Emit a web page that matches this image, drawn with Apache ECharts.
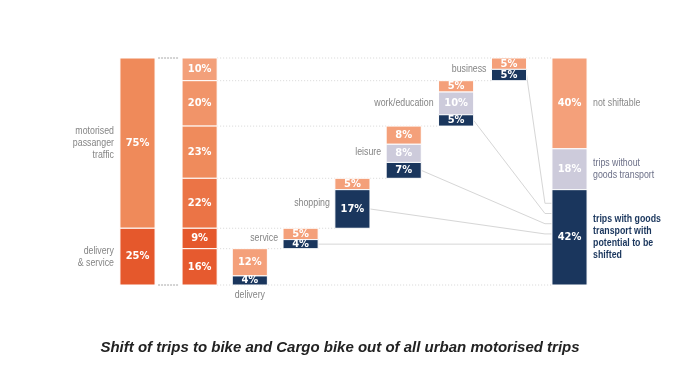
<!DOCTYPE html>
<html><head><meta charset="utf-8">
<script src="https://cdn.jsdelivr.net/npm/echarts@6/dist/echarts.min.js"></script>
<style>html,body{margin:0;padding:0;background:#fff}#c{width:680px;height:370px}</style>
</head><body><div id="c"></div>
<script>
// ---------------- DATA ----------------
const overallLabels = ['motorised\npassanger\ntraffic', 'delivery\n& service'];
const overallValues = [75, 25];
const purposes = ['delivery', 'service', 'shopping', 'leisure', 'work/education', 'business'];
const purposeShares = [16, 9, 22, 23, 20, 10];
const notShiftable = [12, 5, 5, 8, 5, 5];
const withoutGoods = [0, 0, 0, 8, 10, 0];
const withGoods = [4, 4, 17, 7, 5, 5];
const resultLabels = ['not shiftable', 'trips without\ngoods transport', 'trips with goods\ntransport with\npotential to be\nshifted'];
const resultValues = [40, 18, 42];
const titleText = 'Shift of trips to bike and Cargo bike out of all urban motorised trips';

// ---------------- LAYOUT / STYLE ----------------
const columnX = [0, 1.15, 2.08, 3.02, 3.98, 4.93, 5.9, 6.88, 8];
const barW = 0.65;
const FONT = "'Liberation Sans',Arial,sans-serif";
const BAR_FONT = "'DejaVu Sans Condensed','Liberation Sans',sans-serif";
const LABEL_SCALE = 0.8;
const overallColors = ['#EF8A5A', '#E5582C'];
const purposeColors = ['#E65A2F', '#E5582C', '#EB7446', '#EF8B5C', '#F19469', '#F3A07A'];
const cOrange = '#F4A07A', cGray = '#CDCBDB', cNavy = '#1A365D';
const resultColors = [cOrange, cGray, cNavy];
const resultTextColors = ['#8a8a8a', '#6c7088', '#1A365D'];

// ---------------- BUILD SEGMENTS ----------------
const segs = [];
function addSeg(col, from, val, color, textColor) {
  if (val <= 0) return;
  segs.push({ value: [columnX[col], from, from + val], color, text: val + '%', textColor: textColor || '#fff' });
}
let cum = 0;
overallValues.forEach((v, i) => { addSeg(0, cum, v, overallColors[i]); cum += v; });

const purposeTop = purposes.map((_, i) => purposeShares.slice(i + 1).reduce((a, b) => a + b, 0));
for (let i = purposes.length - 1; i >= 0; i--) addSeg(1, purposeTop[i], purposeShares[i], purposeColors[i]);

purposes.forEach((p, i) => {
  let t = purposeTop[i];
  addSeg(2 + i, t, notShiftable[i], cOrange); t += notShiftable[i];
  addSeg(2 + i, t, withoutGoods[i], cGray); t += withoutGoods[i];
  addSeg(2 + i, t, withGoods[i], cNavy);
});
cum = 0;
resultValues.forEach((v, i) => { addSeg(8, cum, v, resultColors[i]); cum += v; });

// ---------------- LABELS ----------------
const labels = [];
cum = 0;
overallValues.forEach((v, i) => {
  labels.push({ value: [columnX[0] - barW / 2, cum + v / 2], text: overallLabels[i], align: 'right', dx: -6, vAlign: 'middle', color: '#858585', weight: 'normal' });
  cum += v;
});
purposes.forEach((p, i) => {
  if (i === 0) {
    labels.push({ value: [columnX[2], purposeTop[i] + purposeShares[i]], text: p, align: 'center', dx: 0, dy: 4, vAlign: 'top', color: '#858585', weight: 'normal' });
  } else {
    labels.push({ value: [columnX[2 + i] - barW / 2, purposeTop[i] + purposeShares[i] / 2], text: p, align: 'right', dx: -5, vAlign: 'middle', color: '#858585', weight: 'normal' });
  }
});
cum = 0;
resultValues.forEach((v, i) => {
  labels.push({ value: [columnX[8] + barW / 2, cum + v / 2], text: resultLabels[i], align: 'left', dx: 6, vAlign: 'middle', color: resultTextColors[i], weight: i === 2 ? 'bold' : 'normal' });
  cum += v;
});

// ---------------- GUIDE LINES ----------------
const guides = [];
const total = purposeShares.reduce((a, b) => a + b, 0);
guides.push({ value: [columnX[0] + barW / 2, 0, columnX[1] - barW / 2, 0], color: '#a8a8a8', dash: [2, 1], dx1: 3, dx2: -3 });
guides.push({ value: [columnX[0] + barW / 2, total, columnX[1] - barW / 2, total], color: '#a8a8a8', dash: [2, 1], dx1: 3, dx2: -3 });
guides.push({ value: [columnX[1] + barW / 2, 0, columnX[8] - barW / 2, 0], color: '#d6d6d6', dash: [1, 2] });
guides.push({ value: [columnX[1] + barW / 2, total, columnX[8] - barW / 2, total], color: '#d6d6d6', dash: [1, 2] });
purposes.forEach((p, i) => {
  if (i === 0) return;
  const lvl = purposeTop[i] + purposeShares[i];
  guides.push({ value: [columnX[1] + barW / 2, lvl, columnX[2 + i] - barW / 2, lvl], color: '#d6d6d6', dash: [1, 2] });
});
const connectors = [];
purposes.forEach((p, i) => {
  if (i === 0) return;
  const mid = purposeTop[i] + purposeShares[i] - withGoods[i] / 2;
  const end = 100 - (18 + 4.5 * (i - 1));
  connectors.push({ value: [columnX[2 + i] + barW / 2, mid, columnX[8] - barW / 2, end] });
});

// ---------------- CHART ----------------
const chart = echarts.init(document.getElementById('c'), null, { renderer: 'canvas' });
chart.setOption({
  animation: false,
  backgroundColor: '#fff',
  title: {
    text: titleText, left: 'center', top: 335,
    textStyle: { fontFamily: "'Liberation Sans',Arial,sans-serif", fontStyle: 'italic', fontWeight: 'bold', fontSize: 15, color: '#222' }
  },
  grid: { left: 110.5, right: 83.5, top: 58, bottom: 85 },
  xAxis: { type: 'value', min: -0.5, max: 8.5, show: false },
  yAxis: { type: 'value', min: 0, max: 100, inverse: true, show: false },
  series: [
    {
      type: 'custom', data: guides, z: 1, silent: true,
      renderItem(params, api) {
        const g = guides[params.dataIndex];
        const a = api.coord([api.value(0), api.value(1)]);
        const b = api.coord([api.value(2), api.value(3)]);
        return { type: 'line', shape: { x1: a[0] + (g.dx1 || 0), y1: a[1], x2: b[0] + (g.dx2 || 0), y2: b[1] },
          style: { stroke: g.color, lineWidth: 1, lineDash: g.dash } };
      }
    },
    {
      type: 'custom', data: connectors, z: 1, silent: true,
      renderItem(params, api) {
        const a = api.coord([api.value(0), api.value(1)]);
        const b = api.coord([api.value(2), api.value(3)]);
        return { type: 'polyline', shape: { points: [a, [b[0] - 7, b[1]], b] },
          style: { stroke: '#d6d6d6', lineWidth: 1, fill: null } };
      }
    },
    {
      type: 'custom', data: segs, z: 3,
      renderItem(params, api) {
        const s = segs[params.dataIndex];
        const p0 = api.coord([api.value(0), api.value(1)]);
        const p1 = api.coord([api.value(0), api.value(2)]);
        const w = api.size([barW, 0])[0];
        return {
          type: 'rect',
          shape: { x: p0[0] - w / 2, y: p0[1], width: w, height: p1[1] - p0[1] },
          style: { fill: s.color, stroke: '#fff', lineWidth: 1 },
          textContent: { style: { text: s.text, fill: s.textColor, font: 'bold 11px ' + BAR_FONT } },
          textConfig: { position: 'inside' }
        };
      }
    },
    {
      type: 'custom', data: labels, z: 4, silent: true,
      renderItem(params, api) {
        const l = labels[params.dataIndex];
        const p = api.coord([api.value(0), api.value(1)]);
        return {
          type: 'text',
          x: p[0] + (l.dx || 0), y: p[1] + (l.dy || 0),
          scaleX: LABEL_SCALE,
          style: { text: l.text, fill: l.color, align: l.align, verticalAlign: l.vAlign,
            font: l.weight + ' 11px ' + FONT, lineHeight: 12 }
        };
      }
    }
  ]
});
</script></body></html>
